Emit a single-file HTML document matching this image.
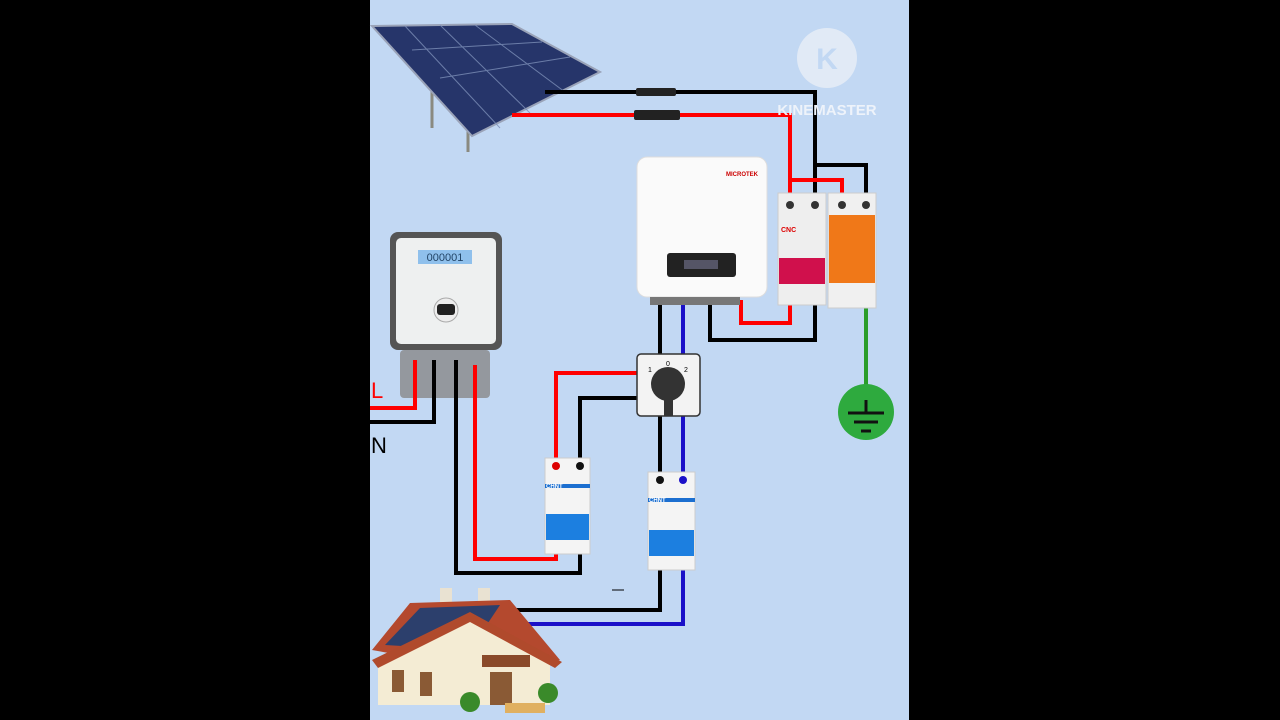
<!DOCTYPE html>
<html><head><meta charset="utf-8"><style>
html,body{margin:0;padding:0;background:#000;width:1280px;height:720px;overflow:hidden}
svg{display:block}
text{font-family:"Liberation Sans",sans-serif}
</style></head><body>
<svg width="1280" height="720" viewBox="0 0 1280 720" xmlns="http://www.w3.org/2000/svg">
<rect x="0" y="0" width="1280" height="720" fill="#000"/>
<rect x="370" y="0" width="539" height="720" fill="#c2d8f3"/>

<!-- solar panel -->
<line x1="432" y1="90" x2="432" y2="128" stroke="#8a8a80" stroke-width="3"/>
<line x1="468" y1="125" x2="468" y2="152" stroke="#8a8a80" stroke-width="3"/>
<polygon points="372,26 512,24 600,72 472,136" fill="#26356a" stroke="#9aa3b8" stroke-width="2"/>
<g stroke="#7d8fb8" stroke-width="1" opacity="0.8">
<line x1="412" y1="50" x2="542" y2="42"/>
<line x1="440" y1="78" x2="570" y2="57"/>
<line x1="405" y1="26" x2="500" y2="128"/>
<line x1="440" y1="25" x2="530" y2="113"/>
<line x1="475" y1="25" x2="565" y2="92"/>
</g>

<!-- meter (drawn before wires) -->
<rect x="390" y="232" width="112" height="118" rx="8" fill="#555"/>
<rect x="396" y="238" width="100" height="106" rx="5" fill="#eef0f0"/>
<rect x="418" y="250" width="54" height="14" fill="#8fc0ec"/>
<text x="445" y="261" font-size="11" text-anchor="middle" fill="#246">000001</text>
<circle cx="446" cy="310" r="12" fill="#eee" stroke="#aaa"/>
<rect x="437" y="304" width="18" height="11" rx="3" fill="#222"/>
<rect x="400" y="350" width="90" height="48" rx="4" fill="#888" opacity="0.8"/>

<!-- wires -->
<g fill="none" stroke-linejoin="miter" stroke-width="4">
<polyline points="545,92 815,92 815,205" stroke="#000"/>
<polyline points="815,165 866,165 866,205" stroke="#000"/>
<polyline points="512,115 790,115 790,205" stroke="#f00"/>
<polyline points="790,180 842,180 842,205" stroke="#f00"/>
<polyline points="741,300 741,323 790,323 790,298" stroke="#f00"/>
<polyline points="710,305 710,340 815,340 815,298" stroke="#000"/>
<polyline points="866,298 866,400" stroke="#2a9d2a"/>
<polyline points="660,300 660,356" stroke="#000"/>
<polyline points="683,305 683,356" stroke="#1a10c8"/>
<polyline points="660,414 660,480" stroke="#000"/>
<polyline points="683,414 683,480" stroke="#1a10c8"/>
<polyline points="660,563 660,610 510,610" stroke="#000"/>
<polyline points="683,563 683,624 525,624" stroke="#1a10c8"/>
<polyline points="556,466 556,373 640,373" stroke="#f00"/>
<polyline points="580,466 580,398 640,398" stroke="#000"/>
<polyline points="370,408 415,408 415,360" stroke="#f00"/>
<polyline points="370,422 434,422 434,360" stroke="#000"/>
<polyline points="456,360 456,573 580,573 580,548" stroke="#000"/>
<polyline points="475,365 475,559 556,559 556,548" stroke="#f00"/>
</g>
<text x="371" y="398" font-size="22" fill="#f00">L</text>
<text x="371" y="453" font-size="22" fill="#000">N</text>
<!-- MC4 connectors -->
<rect x="636" y="88" width="40" height="8" rx="2" fill="#222"/>
<rect x="634" y="110" width="46" height="10" rx="2" fill="#222"/>

<!-- kinemaster -->
<circle cx="827" cy="58" r="30" fill="#e6edf6" opacity="0.85"/>
<text x="827" y="69" font-size="30" text-anchor="middle" fill="#c2d8f3" font-weight="bold">K</text>
<text x="827" y="115" font-size="15" text-anchor="middle" fill="#eef3fa" font-weight="bold">KINEMASTER</text>

<!-- inverter -->
<rect x="637" y="157" width="130" height="140" rx="10" fill="#fafafa" stroke="#ddd"/>
<rect x="667" y="253" width="69" height="24" rx="3" fill="#222"/>
<rect x="684" y="260" width="34" height="9" fill="#556"/>
<text x="742" y="176" font-size="6" fill="#c00" text-anchor="middle" font-weight="bold">MICROTEK</text>
<rect x="650" y="297" width="90" height="8" fill="#777"/>

<!-- CNC breaker -->
<rect x="778" y="193" width="48" height="112" fill="#eee" stroke="#ccc"/>
<rect x="779" y="258" width="46" height="26" fill="#d0104c"/>
<text x="781" y="232" font-size="7" fill="#d00" font-weight="bold">CNC</text>
<circle cx="790" cy="205" r="4" fill="#333"/><circle cx="815" cy="205" r="4" fill="#333"/>
<!-- SPD -->
<rect x="828" y="193" width="48" height="115" fill="#f0f0f0" stroke="#ccc"/>
<rect x="829" y="215" width="46" height="68" fill="#f07818"/>
<circle cx="842" cy="205" r="4" fill="#333"/><circle cx="866" cy="205" r="4" fill="#333"/>

<!-- ground -->
<circle cx="866" cy="412" r="28" fill="#2eaa3e"/>
<g stroke="#111" stroke-width="3">
<line x1="866" y1="400" x2="866" y2="413"/>
<line x1="848" y1="413" x2="884" y2="413"/>
<line x1="854" y1="422" x2="878" y2="422"/>
<line x1="861" y1="431" x2="871" y2="431"/>
</g>

<!-- switch -->
<rect x="637" y="354" width="63" height="62" rx="4" fill="#f3f3f3" stroke="#333" stroke-width="1.5"/>
<circle cx="668" cy="384" r="17" fill="#333"/>
<rect x="664" y="380" width="9" height="36" fill="#333"/>
<text x="648" y="372" font-size="7">1</text><text x="666" y="366" font-size="7">0</text><text x="684" y="372" font-size="7">2</text>

<!-- breaker 1 -->
<rect x="545" y="458" width="45" height="96" fill="#f4f4f4" stroke="#ccc"/>
<rect x="545" y="484" width="45" height="4" fill="#1c6fd0"/>
<rect x="546" y="514" width="43" height="26" fill="#1c7fe0"/>
<circle cx="556" cy="466" r="4" fill="#d00"/><circle cx="580" cy="466" r="4" fill="#111"/>
<text x="546" y="488" font-size="6" fill="#fff" font-weight="bold">CHNT</text>
<!-- breaker 2 -->
<rect x="648" y="472" width="47" height="98" fill="#f4f4f4" stroke="#ccc"/>
<rect x="648" y="498" width="47" height="4" fill="#1c6fd0"/>
<rect x="649" y="530" width="45" height="26" fill="#1c7fe0"/>
<circle cx="660" cy="480" r="4" fill="#111"/><circle cx="683" cy="480" r="4" fill="#1a10c8"/>
<text x="649" y="502" font-size="6" fill="#fff" font-weight="bold">CHNT</text>
<path d="M612,590 L624,590" stroke="#000" stroke-width="1"/>

<!-- house -->
<rect x="440" y="588" width="12" height="35" fill="#e9e2d2"/>
<rect x="478" y="588" width="12" height="20" fill="#e9e2d2"/>
<polygon points="372,650 410,603 510,600 560,660 520,668 470,610 400,655" fill="#b4492e"/>
<polygon points="385,645 420,608 500,605 470,650" fill="#2c3f6c"/>
<polygon points="378,660 470,615 550,665 550,705 378,705" fill="#f4ecd4"/>
<polygon points="372,660 470,612 562,662 555,668 470,622 378,668" fill="#b04a2c"/>
<rect x="392" y="670" width="12" height="22" fill="#8a5a35"/>
<rect x="420" y="672" width="12" height="24" fill="#8a5a35"/>
<rect x="482" y="655" width="48" height="12" fill="#8a4a2a"/>
<rect x="490" y="672" width="22" height="33" fill="#8a5a35"/>
<circle cx="470" cy="702" r="10" fill="#3a8a2a"/>
<circle cx="548" cy="693" r="10" fill="#3a8a2a"/>
<rect x="505" y="703" width="40" height="10" fill="#e0b060"/>
</svg>
</body></html>
